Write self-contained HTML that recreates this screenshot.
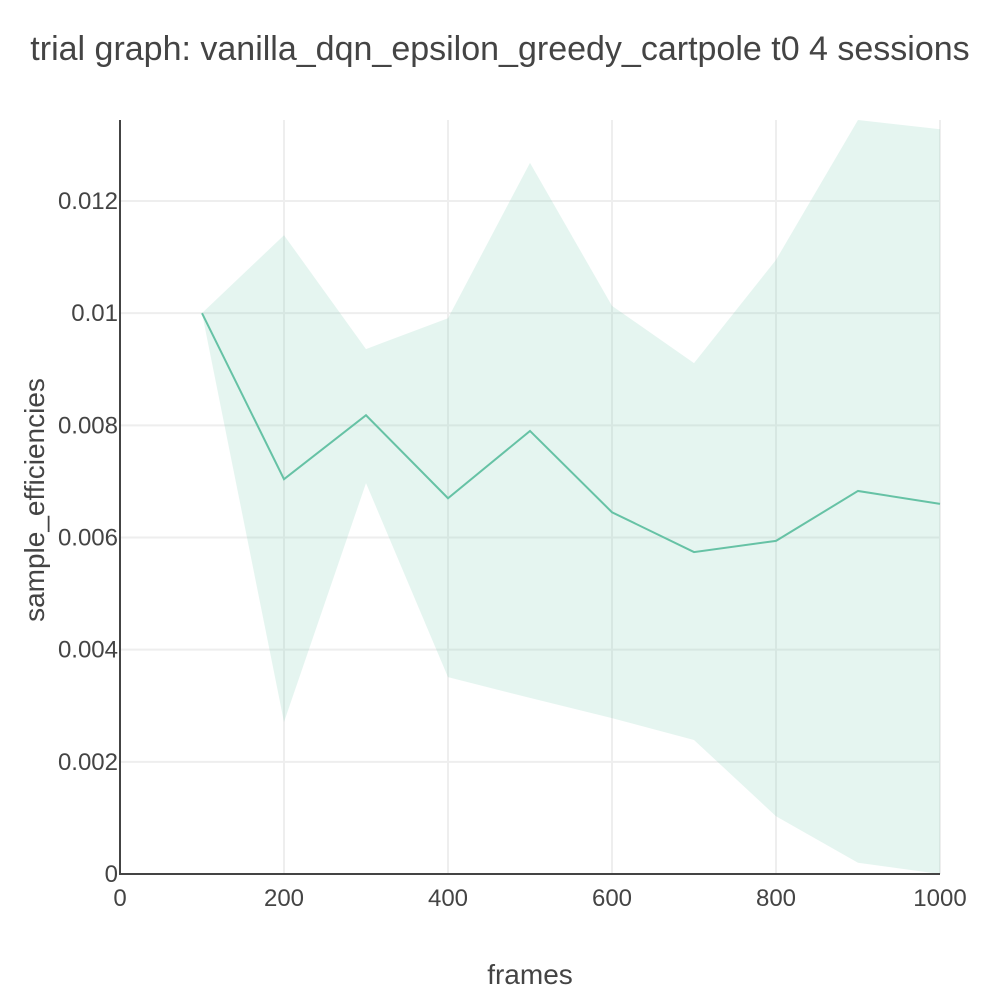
<!DOCTYPE html>
<html><head><meta charset="utf-8"><style>
body{margin:0;background:#fff}
svg{display:block;font-family:"Liberation Sans",sans-serif}
</style></head><body>
<svg id="chart" width="1000" height="1000">
<text x="500" y="60" text-anchor="middle" font-size="34" fill="#444">trial graph: vanilla_dqn_epsilon_greedy_cartpole t0 4 sessions</text>
<g id="grid"></g>
<path id="band" fill="rgba(102,194,165,0.17)"></path>
<path id="line" fill="none" stroke="#66c2a5" stroke-width="2"></path>
<g id="axes"></g>
<text x="530" y="984" text-anchor="middle" font-size="28" fill="#444">frames</text>
<text transform="translate(44,500) rotate(-90)" text-anchor="middle" font-size="28" fill="#444">sample_efficiencies</text>
</svg>
<script>
const frames=[100,200,300,400,500,600,700,800,900,1000];
const meanVals=[0.01,0.00704,0.00818,0.0067,0.0079,0.00645,0.00574,0.00594,0.00683,0.0066];
const upperVals=[0.01,0.01139,0.00936,0.00991,0.01268,0.01013,0.00911,0.01095,0.01346,0.01328];
const lowerVals=[0.01,0.00271,0.00697,0.00351,0.00314,0.00278,0.00239,0.00103,0.0002,0];
const xTicks=[0,200,400,600,800,1000];
const yTicks=[0,0.002,0.004,0.006,0.008,0.01,0.012];
const yTickLabels=["0","0.002","0.004","0.006","0.008","0.01","0.012"];
const X=v=>120+v*0.82;
const Y=v=>874-v*56083;
const NS="http://www.w3.org/2000/svg";
const grid=document.getElementById('grid'),axes=document.getElementById('axes');
function mk(tag,attrs,parent,txt){const e=document.createElementNS(NS,tag);for(const k in attrs)e.setAttribute(k,attrs[k]);if(txt!==undefined)e.textContent=txt;parent.appendChild(e);return e;}
xTicks.forEach(t=>{
 if(t>0){const g=mk('line',{x1:X(t),x2:X(t),y1:120,y2:874,stroke:'#eee','stroke-width':2},grid);
 
 }
 const l=mk('text',{x:X(t),y:906,'text-anchor':'middle','font-size':24,fill:'#444'},axes,t);
 
 
});
yTicks.forEach((t,i)=>{
 if(t>0){const g=mk('line',{x1:120,x2:940,y1:Y(t),y2:Y(t),stroke:'#eee','stroke-width':2},grid);
 
 }
 const l=mk('text',{x:118,y:Y(t)+8,'text-anchor':'end','font-size':24,fill:'#444'},axes,yTickLabels[i]);
 
 
});
const ax=mk('line',{x1:120,x2:120,y1:120,y2:875,stroke:'#444','stroke-width':2},axes);


const ax2=mk('line',{x1:119,x2:940,y1:874,y2:874,stroke:'#444','stroke-width':2},axes);


const clip=v=>Math.max(120,v);
let d=frames.map((f,i)=>(i?'L':'M')+X(f)+','+clip(Y(upperVals[i]))).join('');
for(let i=frames.length-1;i>=0;i--)d+='L'+X(frames[i])+','+Y(lowerVals[i]);
document.getElementById('band').setAttribute('d',d+'Z');
document.getElementById('line').setAttribute('d',frames.map((f,i)=>(i?'L':'M')+X(f)+','+Y(meanVals[i])).join(''));
</script>
</body></html>
